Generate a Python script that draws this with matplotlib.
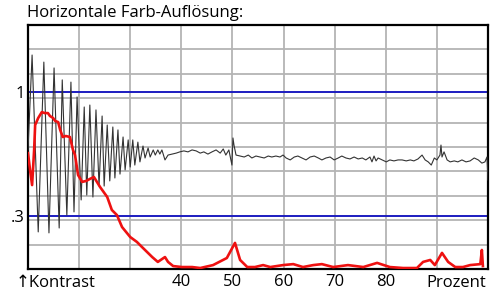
import matplotlib
matplotlib.use("Agg")
import matplotlib.pyplot as plt

plt.rcParams['font.family'] = ['Open Sans', 'DejaVu Sans']

# Black curve (x in Prozent, y in % of plot height)
black_x = [10.0, 10.8, 12.0, 13.1, 14.1, 15.1, 16.1, 16.7, 17.6, 18.4, 19.0, 19.6, 20.4, 21.0,
           21.5, 22.1, 22.7, 23.3, 23.9, 24.5, 24.9, 25.5, 26.0, 26.6, 27.0, 27.6, 28.0, 28.6,
           29.0, 29.6, 30.0, 30.5, 30.9, 31.5, 31.9, 32.5, 32.9, 33.5, 33.9, 34.5, 34.9, 35.4,
           35.8, 36.2, 36.8,
           37.4, 38.2, 39.0, 39.7, 40.5, 41.3, 42.1, 42.9, 43.7, 44.4, 45.2, 46.0, 46.8, 47.6,
           48.2, 48.7, 49.3, 49.7, 49.9, 50.1, 50.3, 50.7, 51.5, 52.3, 53.1, 53.8, 54.6, 55.4,
           56.2, 57.0, 57.7, 58.5, 59.3, 59.9, 60.5, 61.3, 62.1, 62.8, 63.6, 64.4, 65.2, 66.0,
           66.8, 67.5, 68.3, 69.1, 69.9, 70.7, 71.4, 72.2, 73.0, 73.8, 74.6, 75.4, 76.1, 76.9,
           77.3, 77.7, 78.1, 78.5, 79.3, 80.1, 80.8, 81.6, 82.4, 83.2, 84.0, 84.8, 85.5, 86.3,
           87.1, 87.7, 88.3, 88.9, 89.5, 90.0, 90.6, 90.8, 91.0, 91.4, 92.0, 92.6, 93.4, 94.1,
           94.9, 95.7, 96.5, 97.3, 98.1, 98.8, 99.4, 99.8, 100.0]
black_y = [48.8, 87.7, 15.2, 84.8, 14.8, 82.4, 16.8, 77.5, 22.1, 76.6, 23.4, 70.5, 28.3, 66.4,
           30.3, 67.2, 29.5, 65.2, 34.0, 62.7, 34.0, 59.0, 36.1, 58.2, 37.3, 57.0, 38.9, 54.1,
           40.6, 52.9, 41.8, 52.9, 42.6, 52.0, 43.9, 50.4, 45.5, 49.6, 45.9, 48.8, 46.7, 48.8,
           47.1, 48.8, 44.7,
           46.7, 47.1, 47.5, 48.0, 48.4, 48.0, 48.8, 48.4, 47.5, 48.0, 47.1, 48.0, 48.8, 47.5,
           49.2, 46.7, 48.8, 44.7, 42.6, 53.7, 50.8, 46.7, 46.3, 45.9, 46.7, 45.5, 46.3, 45.9,
           45.5, 46.3, 45.9, 46.3, 45.9, 46.7, 45.5, 44.7, 45.9, 46.3, 45.5, 44.7, 45.9, 46.3,
           45.5, 44.7, 45.5, 45.9, 44.7, 45.5, 46.3, 45.5, 45.1, 45.9, 45.1, 45.5, 44.7, 45.9,
           43.9, 46.3, 44.3, 45.5, 44.7, 43.9, 44.7, 44.3, 44.7, 44.7, 44.3, 44.7, 44.3, 45.1,
           46.7, 44.7, 43.9, 42.6, 45.5, 44.7, 46.7, 50.8, 45.9, 48.0, 44.7, 43.9, 44.3, 43.9,
           44.7, 43.9, 44.3, 45.5, 44.7, 43.4, 43.9, 45.9, 36.5]

# Red curve
red_x = [10.0, 10.4, 10.8, 11.2, 11.4, 12.0, 12.7, 13.3, 13.9, 14.3, 14.9, 15.3, 15.9, 16.3,
         16.8, 17.4, 18.2, 18.8, 19.2, 19.8, 20.6, 21.4, 22.1, 22.9, 24.1, 25.5, 26.4, 27.4,
         28.4, 30.0, 31.3, 32.5, 34.3, 35.4, 36.8, 37.4, 38.4, 40.1, 42.1, 43.7, 46.2, 48.9,
         50.5, 51.5, 52.9, 54.4, 56.0, 57.4, 59.9, 61.9, 63.8, 65.8, 67.5, 69.7, 72.6, 75.6,
         78.3, 80.8, 83.4, 86.1, 87.3, 88.7, 89.6, 91.0, 92.2, 93.6, 95.1, 96.5, 98.5, 98.8, 99.0]
red_y = [47.5, 40.6, 34.4, 48.8, 59.0, 61.9, 64.3, 63.9, 63.9, 62.7, 61.9, 60.7, 60.2, 57.0,
         54.1, 54.5, 54.1, 48.8, 46.7, 38.5, 35.7, 36.1, 36.9, 37.7, 33.6, 29.5, 24.2, 22.1,
         17.2, 13.1, 11.1, 8.6, 4.9, 2.9, 4.9, 2.9, 1.2, 0.8, 0.8, 0.4, 1.6, 4.5,
         10.7, 3.7, 0.8, 0.8, 1.6, 0.8, 1.6, 2.0, 0.8, 1.6, 2.0, 0.8, 1.6, 0.8,
         2.5, 0.8, 0.4, 0.4, 2.9, 3.7, 1.6, 6.6, 2.9, 0.8, 0.8, 1.6, 2.0, 7.8, 1.2]

# Reference (blue) lines and labels
ref_levels = [72.5, 21.7]
ref_labels = ["1", ".3"]
x_ticks = [40, 50, 60, 70, 80]
x_grid = [20, 30, 40, 50, 60, 70, 80, 90]
y_grid = [10, 20, 30, 40, 50, 60, 70, 80, 90]

FS = 12

fig = plt.figure(figsize=(5.0, 3.06), dpi=100)
ax = fig.add_axes([28/500, 37/306, 460/500, 244/306])
ax.set_xlim(10, 100)
ax.set_ylim(0, 100)

for gx in x_grid:
    ax.axvline(gx, color='#b4b4b4', lw=1.3, zorder=1)
for gy in y_grid:
    ax.axhline(gy, color='#b4b4b4', lw=1.3, zorder=1)
for lv in ref_levels:
    ax.axhline(lv, color='#1c1cc0', lw=1.4, zorder=2)

ax.plot(black_x, black_y, color='#333333', lw=0.8, zorder=3)
ax.plot(red_x, red_y, color='#ee1111', lw=1.9, zorder=4, solid_joinstyle='round')

for s in ax.spines.values():
    s.set_linewidth(1.6)
    s.set_color('black')

ax.set_xticks(x_ticks)
ax.set_xticklabels([str(t) for t in x_ticks])
ax.set_yticks(ref_levels)
ax.set_yticklabels(ref_labels)
ax.tick_params(length=0, labelsize=FS, pad=2.5)
ax.tick_params(axis='x', pad=3.5)

lab_y = -(283 - 269) / 244
ax.text(99.6, lab_y, "Prozent", transform=ax.get_xaxis_transform(), ha='right', va='center',
        fontsize=FS)
fig.text(16/500, 1 - 283/306, "↑Kontrast", ha='left', va='center', fontsize=FS)
fig.text(27/500, 1 - 13/306, "Horizontale Farb-Auflösung:", ha='left', va='center', fontsize=FS)

fig.savefig("out.png", dpi=100)
